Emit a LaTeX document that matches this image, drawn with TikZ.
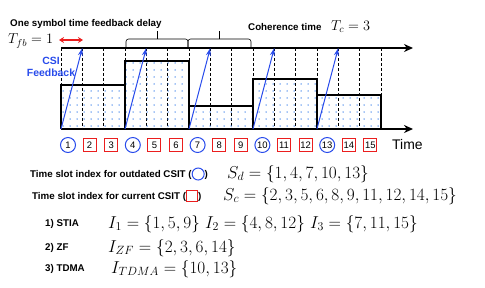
\documentclass[tikz,border=0pt]{standalone}
\usepackage{fontspec}
\newfontfamily\lblfont{Liberation Sans}
\usetikzlibrary{arrows.meta,patterns.meta}
\definecolor{fbblue}{RGB}{40,75,235}
\definecolor{dotblue}{RGB}{70,135,235}
\definecolor{slotred}{RGB}{235,30,30}

\begin{document}
\begin{tikzpicture}[x=1bp, y=-1bp, every node/.style={inner sep=0pt},
  note/.style={font=\lblfont\bfseries\fontsize{9.8}{11}\selectfont, anchor=west},
  eqn/.style={font=\fontsize{17.5}{20}\selectfont, anchor=west},
  block/.style={draw, line width=1.7bp, pattern={Dots[distance=7bp, radius=0.75bp]}, pattern color=dotblue},
  axis/.style={line width=1.8bp, -{Stealth[length=9bp, width=8bp]}},
  slotline/.style={densely dashed, line width=0.4bp},
  fb/.style={fbblue, line width=1bp, -{Stealth[length=8bp, width=5bp]}},
  bracket/.style={line width=0.6bp, rounded corners=2.5bp},
  old/.style={circle, draw=fbblue, line width=1bp, minimum size=15bp, font=\lblfont\fontsize{9.5}{10}\selectfont},
  cur/.style={rectangle, draw=slotred, line width=1bp, minimum size=13bp, font=\lblfont\fontsize{9.5}{10}\selectfont}]
\useasboundingbox (0,0) rectangle (485,287);

% slot boundaries on both axes
\foreach \i in {0,...,15} {
  \coordinate (b\i) at ({61+21.33*\i},129);
  \coordinate (t\i) at ({61+21.33*\i},48);
  \draw[slotline] (t\i) -- (b\i);
}
\coordinate (bend) at (413,129);
\coordinate (tend) at (413,48);

% channel blocks
\draw[block] (b0) -- (61,85) -- (b3 |- 0,85) -- (b3);
\draw[block] (b3) -- (b3 |- 0,61) -- (b6 |- 0,61) -- (b6);
\draw[block] (b6) -- (b6 |- 0,106) -- (b9 |- 0,106) -- (b9);
\draw[block] (b9) -- (b9 |- 0,79) -- (b12 |- 0,79) -- (b12);
\draw[block] (b12) -- (b12 |- 0,95) -- (b15 |- 0,95) -- (b15);

% axes
\draw[axis] (t0) -- (tend);
\draw[axis] (b0) -- (bend);

% feedback arrows
\draw[fb] (b0) -- (t1);
\draw[fb] (b3) -- (t4);
\draw[fb] (b6) -- (t7);
\draw[fb] (b9) -- (t10);
\draw[fb] (b12) -- (t13);

% brackets for coherence time
\draw[bracket] (126,47) |- (188,39) -- (188,47);
\draw[bracket] (188,47) |- (251,39) -- (251,47);
\draw[line width=0.6bp] (157,39) -- (157,31);
\draw[line width=0.6bp] (219,39) -- (219,31);

% top labels
\node[note] (delay) at (10,24) {One symbol time feedback delay};
\node[anchor=west, font=\fontsize{14}{16}\selectfont] (tfb) at (8,41) {$T_{fb}=1$};
\coordinate (dl) at (59,40);
\coordinate (dr) at (83,40);
\draw[slotred, line width=1.5bp, {Stealth[length=5bp, width=6bp]}-{Stealth[length=5bp, width=6bp]}] (dl) -- (dr);
\node[font=\lblfont\bfseries\fontsize{10.5}{12.5}\selectfont, text=fbblue, align=center] (csi) at (51,67) {CSI\\Feedback};
\node[note] (coh) at (248,27) {Coherence time};
\node[anchor=west, font=\fontsize{14}{16}\selectfont] (tc) at (331,27) {$T_c=3$};

% slot indices
\node[old] (s1) at (68,145) {1};
\node[cur] (s2) at (89.6,145) {2};
\node[cur] (s3) at (111.2,145) {3};
\node[old] (s4) at (132.8,145) {4};
\node[cur] (s5) at (154.4,145) {5};
\node[cur] (s6) at (176,145) {6};
\node[old] (s7) at (197.6,145) {7};
\node[cur] (s8) at (219.2,145) {8};
\node[cur] (s9) at (240.8,145) {9};
\node[old] (s10) at (262.4,145) {10};
\node[cur] (s11) at (284,145) {11};
\node[cur] (s12) at (305.6,145) {12};
\node[old] (s13) at (327.2,145) {13};
\node[cur] (s14) at (348.8,145) {14};
\node[cur] (s15) at (370.4,145) {15};
\node[anchor=west, font=\lblfont\fontsize{14}{16}\selectfont] (time) at (392,145) {Time};

% index sets
\node[note] (outd) at (30,174) {Time slot index for outdated CSIT (\tikz[baseline=-3.5bp]\draw[fbblue, line width=1bp] (0,0) circle (6bp);)};
\node[eqn] (sd) at (227,174) {$S_d=\{1,4,7,10,13\}$};
\node[note] (curr) at (32,196) {Time slot index for current CSIT (\tikz[baseline=-3.5bp]\draw[slotred, line width=1bp] (-5.5bp,-5.5bp) rectangle (5.5bp,5.5bp);)};
\node[eqn] (sc) at (223,196) {$S_c=\{2,3,5,6,8,9,11,12,14,15\}$};

\node[note] (stia) at (45,224) {1) STIA};
\node[eqn] (ist) at (108,224) {$I_1=\{1,5,9\}$ $I_2=\{4,8,12\}$ $I_3=\{7,11,15\}$};
\node[note] (zf) at (45,248) {2) ZF};
\node[eqn] (izf) at (108,248) {$I_{ZF}=\{2,3,6,14\}$};
\node[note] (tdma) at (45,269) {3) TDMA};
\node[eqn] (itd) at (111,269) {$I_{TDMA}=\{10,13\}$};
\end{tikzpicture}
\end{document}
